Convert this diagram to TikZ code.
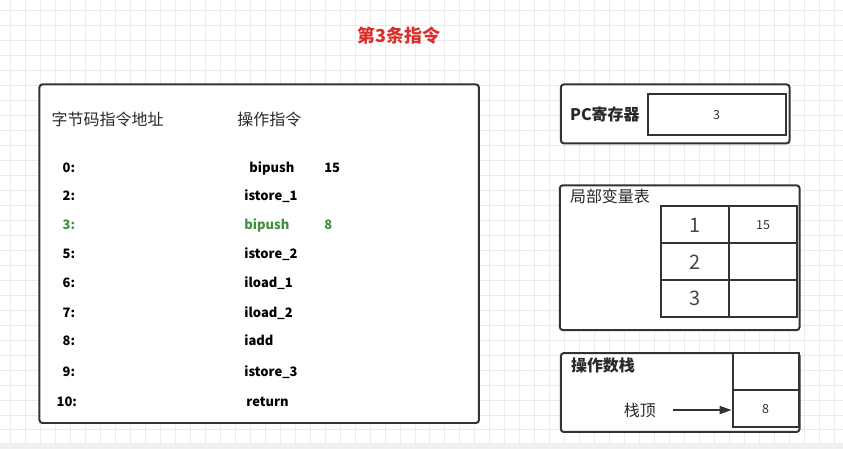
\documentclass[tikz,border=0pt]{standalone}
\usepackage{fontspec}
\setmainfont{Noto Sans CJK SC}
\usetikzlibrary{arrows.meta,positioning}
\definecolor{jvmink}{HTML}{333333}
\definecolor{jvmred}{HTML}{D9302C}
\definecolor{jvmgreen}{HTML}{3D9140}
\definecolor{jvmgrid}{HTML}{EBEBEB}
\definecolor{jvmband}{HTML}{F0F0F0}
\tikzset{
  jvmpanel/.style={
    draw=jvmink,
    fill=white,
    line width=2pt,
    rounded corners=3pt,
    inner sep=0pt
  },
  jvmcell/.style={draw=jvmink,fill=white,line width=2pt,inner sep=0pt,
                  minimum width=68pt,minimum height=37pt},
  jvmslot/.style={jvmcell,minimum width=66pt},
  jvmhead/.style={inner sep=0pt,text=jvmink!80!black,font=\fontsize{16}{18}\selectfont,
                  text height=13.3pt,text depth=1.1pt},
  jvmboldhead/.style={jvmhead,font=\fontsize{16}{18}\selectfont\bfseries},
  jvmcode/.style={inner sep=0pt,anchor=west,text=black,
                  font=\fontsize{13}{15}\selectfont\bfseries,
                  text height=9.5pt,text depth=0pt},
  jvmnow/.style={jvmcode,text=jvmgreen},
  jvmbig/.style={font=\fontsize{20}{22}\selectfont,text=jvmink!90,
                 text height=14.7pt,text depth=0pt},
  jvmsmall/.style={font=\fontsize{12.5}{14}\selectfont,text=jvmink,
                   text height=9.2pt,text depth=0pt},
  jvmflow/.style={-{Triangle[length=12pt,width=8pt]},line width=1.8pt,jvmink}
}

\begin{document}
\begin{tikzpicture}[x=1pt,y=-1pt]
  % canvas
  \fill[white] (0,0) rectangle (843,449);
  \foreach \gx in {10,25,...,835}
    \draw[jvmgrid,line width=1pt] (\gx,0) -- (\gx,443);
  \foreach \gy in {10,25,...,430}
    \draw[jvmgrid,line width=1pt] (0,\gy) -- (843,\gy);
  \fill[jvmband] (0,443) rectangle (843,449);
  \useasboundingbox (0,0) rectangle (843,449);

  \node[jvmboldhead,text=jvmred,font=\fontsize{18}{20}\selectfont\bfseries]
    (title) at (399,35.5) {第3条指令};

  % bytecode listing
  \node[jvmpanel,minimum width=440pt,minimum height=339pt] (code) at (259,253.5) {};
  \node[jvmhead,anchor=west] (addrhead) at (51,119) {字节码指令地址};
  \node[jvmhead,anchor=west] (ophead) at (237,119) {操作指令};

  \node[jvmcode] (addr0) at (62,167) {0:};
  \node[jvmcode] (op0) at (249,167) {bipush};
  \node[jvmcode] (arg0) at (324,167) {15};
  \node[jvmcode] (addr2) at (62,195) {2:};
  \node[jvmcode] (op2) at (244,195) {istore\_1};
  \node[jvmnow] (addr3) at (62,225) {3:};
  \node[jvmnow] (op3) at (244,225) {bipush};
  \node[jvmnow] (arg3) at (324,225) {8};
  \node[jvmcode] (addr5) at (62,254) {5:};
  \node[jvmcode] (op5) at (244,254) {istore\_2};
  \node[jvmcode] (addr6) at (62,283) {6:};
  \node[jvmcode] (op6) at (244,283) {iload\_1};
  \node[jvmcode] (addr7) at (62,313) {7:};
  \node[jvmcode] (op7) at (244,313) {iload\_2};
  \node[jvmcode] (addr8) at (62,341) {8:};
  \node[jvmcode] (op8) at (244,341) {iadd};
  \node[jvmcode] (addr9) at (62,372) {9:};
  \node[jvmcode] (op9) at (244,372) {istore\_3};
  \node[jvmcode] (addr10) at (56,401.5) {10:};
  \node[jvmcode] (op10) at (246,401.5) {return};

  % program counter
  \node[jvmpanel,minimum width=229pt,minimum height=59pt] (pc) at (675.5,113.5) {};
  \node[jvmboldhead,anchor=west] (pclabel) at (570,114) {PC寄存器};
  \node[jvmcell,rounded corners=0pt,minimum width=138pt,minimum height=41pt,
        jvmsmall] (pcvalue) at (717,114.5) {3};

  % local variables
  \node[jvmpanel,minimum width=240pt,minimum height=145pt] (locals) at (680,257.5) {};
  \node[jvmhead,anchor=west] (localslabel) at (570,196) {局部变量表};
  \node[jvmcell,jvmbig] (slot1) at (695.5,224.5) {1};
  \node[jvmcell,jvmsmall] (val1) at (763.5,224.5) {15};
  \node[jvmcell,jvmbig] (slot2) at (695.5,261.5) {2};
  \node[jvmcell] (val2) at (763.5,261.5) {};
  \node[jvmcell,jvmbig] (slot3) at (695.5,298.5) {3};
  \node[jvmcell] (val3) at (763.5,298.5) {};

  % operand stack
  \node[jvmpanel,minimum width=239pt,minimum height=79pt] (stack) at (680.5,392.5) {};
  \node[jvmboldhead,anchor=west] (stacklabel) at (571,365) {操作数栈};
  \node[jvmslot] (entry2) at (766,371.5) {};
  \node[jvmslot,jvmsmall] (entry1) at (766,408.5) {8};
  \node[jvmhead,anchor=west] (stacktop) at (624,410) {栈顶};

  \draw[jvmflow,shorten <=17pt] (stacktop.east) -- (stacktop.east -| entry1.west);
\end{tikzpicture}
\end{document}
